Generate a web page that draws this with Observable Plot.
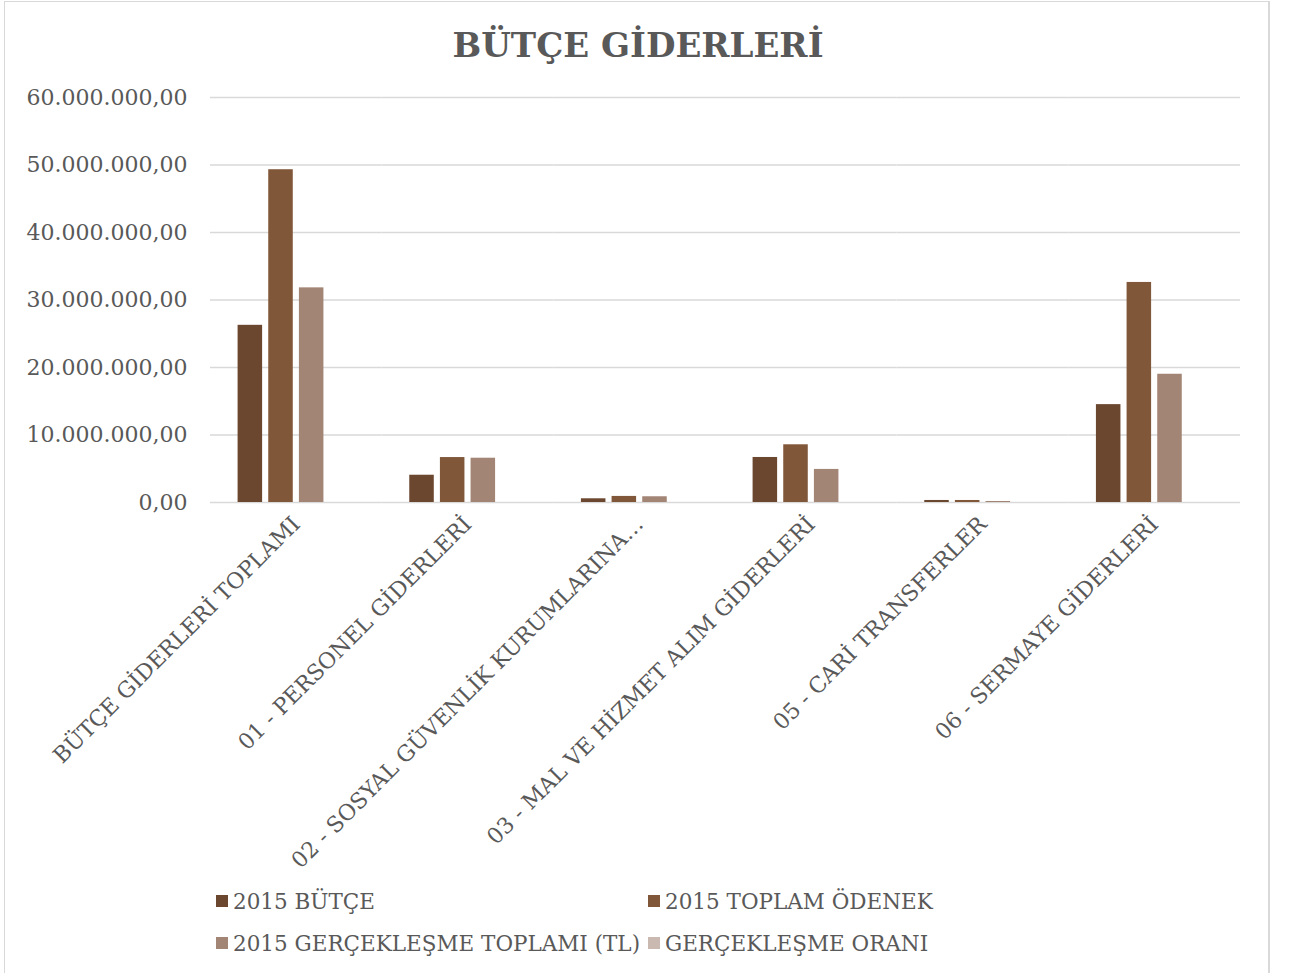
<!DOCTYPE html>
<html><head><meta charset="utf-8">
<script src="https://cdn.jsdelivr.net/npm/d3@7"></script>
<script src="https://cdn.jsdelivr.net/npm/@observablehq/plot@0.6"></script>
<style>
body{margin:0;background:#fff;font-family:"DejaVu Serif",serif;color:#595959;width:1289px;height:973px;overflow:hidden;position:relative}
#frame{position:absolute;left:4px;top:1px;width:1266px;height:1000px;border:1px solid #d9d9d9;border-right:2px solid #d9d9d9;box-sizing:border-box}
#title{position:absolute;left:0;width:1276px;top:23px;text-align:center;font-weight:bold;font-size:34px;line-height:44px;color:#595959}
#chart{position:absolute;left:0;top:80px}
.lg{position:absolute;display:flex;align-items:center;height:30px;font-size:21.5px;white-space:nowrap}
.sw{display:inline-block;width:12px;height:12px;margin-right:5px}
</style></head>
<body>
<div id="frame"></div>
<div id="title">BÜTÇE GİDERLERİ</div>
<div id="chart"></div>
<div id="legend"></div>
<script>
const categories = [
  "BÜTÇE GİDERLERİ TOPLAMI",
  "01 - PERSONEL GİDERLERİ",
  "02 - SOSYAL GÜVENLİK KURUMLARINA…",
  "03 - MAL VE HİZMET ALIM GİDERLERİ",
  "05 - CARİ TRANSFERLER",
  "06 - SERMAYE GİDERLERİ"
];
const series = ["2015 BÜTÇE", "2015 TOPLAM ÖDENEK", "2015 GERÇEKLEŞME TOPLAMI (TL)", "GERÇEKLEŞME ORANI"];
const butce = [26250000, 4040000, 550000, 6670000, 300000, 14500000];
const odenek = [49300000, 6660000, 900000, 8550000, 300000, 32600000];
const gerceklesme = [31800000, 6560000, 850000, 4900000, 150000, 19000000];
const oran = [64.5, 98.5, 94.4, 57.3, 50.0, 58.3];
const yTicks = [0, 10000000, 20000000, 30000000, 40000000, 50000000, 60000000];
const colors = ["#6b4730", "#815739", "#a38576", "#c9b9b1"];

const seriesValues = [butce, odenek, gerceklesme, oran];
const rows = categories.flatMap((c, i) => series.map((s, j) => ({category: c, series: s, value: seriesValues[j][i]})));
const loc = d3.formatLocale({decimal: ",", thousands: ".", grouping: [3], currency: ["", ""]});
const fmt = loc.format(",.2f");

const chart = Plot.plot({
  width: 1289, height: 792,
  marginLeft: 210, marginRight: 49, marginTop: 17, marginBottom: 370,
  style: {fontFamily: "DejaVu Serif", fontSize: "22px", color: "#595959", background: "transparent"},
  fx: {domain: categories, padding: 0, round: false, label: null},
  x: {domain: series, paddingInner: 0.2, paddingOuter: 0.9, round: false, axis: null},
  y: {domain: [0, 60000000], axis: null},
  color: {domain: series, range: colors},
  marks: [
    Plot.ruleY(yTicks, {stroke: "#d9d9d9", strokeWidth: 1.5}),
    Plot.barY(rows, {fx: "category", x: "series", y: "value", fill: "series"}),
    Plot.axisY({ticks: yTicks, tickFormat: fmt, tickSize: 0, tickPadding: 23, fontSize: 22, label: null, fill: "#595959"}),
    Plot.axisFx({anchor: "bottom", tickRotate: -45, tickSize: 0, tickPadding: 18, fontSize: 22, label: null, fill: "#595959"})
  ]
});
document.getElementById("chart").appendChild(chart);

const legend = document.getElementById("legend");
const pos = [[216, 886], [648, 886], [216, 928], [648, 928]];
series.forEach((s, i) => {
  const d = document.createElement("div");
  d.className = "lg";
  d.style.left = pos[i][0] + "px";
  d.style.top = pos[i][1] + "px";
  d.innerHTML = `<span class="sw" style="background:${colors[i]}"></span>${s}`;
  legend.appendChild(d);
});
</script>
</body></html>
